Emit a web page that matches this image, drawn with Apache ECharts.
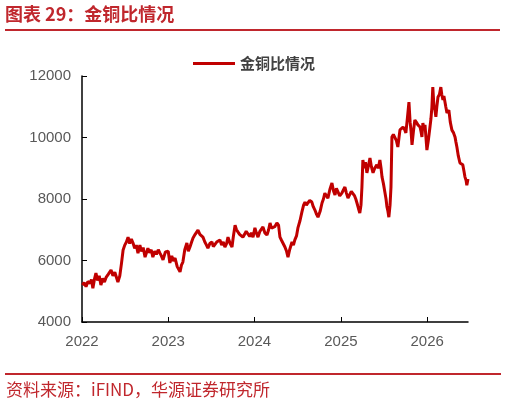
<!DOCTYPE html>
<html>
<head>
<meta charset="utf-8">
<script src="https://cdn.jsdelivr.net/npm/echarts@6/dist/echarts.min.js"></script>
<style>
  html, body { margin: 0; padding: 0; background: #fff; }
  #chart { width: 506px; height: 407px; }
</style>
</head>
<body>
<div id="chart"></div>
<script>
const seriesName = "金铜比情况";

const dates = [
  "2022-01-03", "2022-01-10", "2022-01-18", "2022-01-26", "2022-02-04", "2022-02-10", "2022-02-16", "2022-02-23", "2022-03-01", "2022-03-08",
  "2022-03-15", "2022-03-22", "2022-03-30", "2022-04-06", "2022-04-13", "2022-04-22", "2022-05-04", "2022-05-12", "2022-05-20", "2022-06-02",
  "2022-06-10", "2022-06-17", "2022-06-24", "2022-07-01", "2022-07-08", "2022-07-15", "2022-07-22", "2022-07-29", "2022-08-05", "2022-08-12",
  "2022-08-19", "2022-08-26", "2022-09-03", "2022-09-10", "2022-09-17", "2022-09-25", "2022-10-07", "2022-10-14", "2022-10-21", "2022-10-28",
  "2022-11-05", "2022-11-12", "2022-11-20", "2022-11-27", "2022-12-03", "2022-12-10", "2022-12-20",
  "2023-01-01", "2023-01-08", "2023-01-16", "2023-01-23", "2023-01-30", "2023-02-08", "2023-02-20", "2023-02-26", "2023-03-04", "2023-03-12",
  "2023-03-21", "2023-03-27", "2023-04-03", "2023-04-10", "2023-04-16", "2023-04-25", "2023-05-07", "2023-05-15", "2023-05-22", "2023-05-28",
  "2023-06-05", "2023-06-12", "2023-06-18", "2023-06-26", "2023-07-05", "2023-07-11", "2023-07-18", "2023-07-25", "2023-08-01", "2023-08-08",
  "2023-08-15", "2023-08-22", "2023-08-29", "2023-09-05", "2023-09-11", "2023-09-20", "2023-09-28", "2023-10-04", "2023-10-11", "2023-10-17",
  "2023-10-23", "2023-10-30", "2023-11-06", "2023-11-13", "2023-11-20", "2023-11-27", "2023-12-05", "2023-12-12", "2023-12-19", "2023-12-26",
  "2024-01-03", "2024-01-09", "2024-01-16", "2024-01-24", "2024-02-01", "2024-02-06", "2024-02-14", "2024-02-23", "2024-03-01", "2024-03-07",
  "2024-03-13", "2024-03-19", "2024-03-27", "2024-04-05", "2024-04-12", "2024-04-18", "2024-04-25", "2024-05-02", "2024-05-09", "2024-05-16",
  "2024-05-22", "2024-05-29", "2024-06-08", "2024-06-14", "2024-06-20", "2024-06-27", "2024-07-03", "2024-07-12", "2024-07-20", "2024-07-27",
  "2024-08-02", "2024-08-08", "2024-08-14", "2024-08-22", "2024-08-31", "2024-09-06", "2024-09-13", "2024-09-20", "2024-09-26", "2024-10-05",
  "2024-10-13", "2024-10-19", "2024-10-25", "2024-11-01", "2024-11-07", "2024-11-15", "2024-11-24", "2024-12-01", "2024-12-07", "2024-12-13",
  "2024-12-19", "2024-12-27",
  "2025-01-05", "2025-01-12", "2025-01-18", "2025-01-24", "2025-01-31", "2025-02-08", "2025-02-14", "2025-02-21", "2025-02-28", "2025-03-05",
  "2025-03-10", "2025-03-16", "2025-03-22", "2025-03-27", "2025-03-31", "2025-04-04", "2025-04-10", "2025-04-15", "2025-04-21", "2025-04-28",
  "2025-05-04", "2025-05-10", "2025-05-17", "2025-05-24", "2025-06-02", "2025-06-08", "2025-06-15", "2025-06-20", "2025-06-24", "2025-06-30",
  "2025-07-06", "2025-07-11", "2025-07-15", "2025-07-19", "2025-07-23", "2025-07-28", "2025-08-01", "2025-08-05", "2025-08-11", "2025-08-18",
  "2025-08-24", "2025-08-30", "2025-09-04", "2025-09-08", "2025-09-15", "2025-09-21", "2025-09-28", "2025-10-03", "2025-10-09", "2025-10-16",
  "2025-10-21", "2025-10-25", "2025-10-29", "2025-11-04", "2025-11-10", "2025-11-16", "2025-11-23", "2025-12-02", "2025-12-06", "2025-12-10",
  "2025-12-14", "2025-12-18", "2025-12-23", "2025-12-27", "2025-12-31",
  "2026-01-06", "2026-01-13", "2026-01-17", "2026-01-21", "2026-01-25", "2026-01-30", "2026-02-03", "2026-02-07", "2026-02-11", "2026-02-16",
  "2026-02-22", "2026-02-28", "2026-03-04", "2026-03-09", "2026-03-13", "2026-03-17", "2026-03-21", "2026-03-26", "2026-04-03", "2026-04-09",
  "2026-04-16", "2026-04-23", "2026-04-29", "2026-05-03", "2026-05-07", "2026-05-13", "2026-05-20", "2026-05-26", "2026-06-01", "2026-06-06",
  "2026-06-10", "2026-06-15", "2026-06-18", "2026-06-23"
];

const ratio = [
  5200, 5280, 5150, 5320, 5250, 5380, 5100, 5400, 5590, 5350,
  5500, 5200, 5420, 5300, 5450, 5550, 5690, 5500, 5620, 5300,
  5500, 5900, 6340, 6500, 6600, 6760, 6550, 6700, 6570, 6400,
  6500, 6240, 6500, 6300, 6420, 6110, 6400, 6250, 6350, 6110,
  6300, 6200, 6350, 6240, 6150, 6020, 6280,
  6300, 5920, 6150, 5980, 6080, 5800, 5630, 5850, 5950, 6350,
  6570, 6300, 6440, 6600, 6730, 6850, 6990, 6850, 6900, 6760,
  6600, 6500, 6400, 6550, 6600, 6450, 6500, 6600, 6550, 6670,
  6500, 6600, 6440, 6550, 6760, 6550, 6440, 6800, 7150, 7000,
  6930, 6850, 6900, 6760, 6850, 6950, 6890, 6780, 6900, 6760,
  7060, 6900, 6760, 6950, 7000, 7090, 6900, 6830, 7000, 7220,
  7050, 6990, 7100, 7220, 7150, 6760, 6650, 6600, 6440, 6300,
  6110, 6350, 6600, 6500, 6670, 6800, 7060, 7300, 7580, 7800,
  7900, 7800, 7870, 7950, 7900, 7750, 7640, 7500, 7410, 7600,
  7870, 8000, 8190, 8100, 8030, 8300, 8520, 8250, 8130, 8350,
  8290, 8100,
  8190, 8300, 8390, 8200, 8030, 8070, 8250, 8290, 8100, 8000,
  7870, 7700, 7540, 7800, 8390, 9270, 9000, 9200, 8850, 9100,
  9330, 9050, 8850, 9000, 9110, 9000, 9270, 9000, 8720, 8500,
  8230, 8000, 7740, 7600, 7410, 7800, 8390, 10020, 10100, 10150,
  9900, 9690, 10000, 10250, 10200, 10340, 10250, 10150, 10600, 11150,
  10500, 10200, 9760, 10200, 10570, 10500, 10410, 10340, 10200, 10020,
  10470, 10300, 10410, 10000, 9590,
  9900, 10340, 10600, 10960, 11640, 11000, 10900, 10670, 11000, 11320,
  11400, 11640, 11400, 11220, 11350, 11320, 11000, 10800, 10890, 10500,
  10240, 10150, 10020, 9850, 9690, 9400, 9170, 9200, 9110, 8900,
  8720, 8600, 8450, 8650
];

const red = "#c0272d";
const labelFont = "'Liberation Sans', Arial, 'Noto Sans CJK SC', sans-serif";
const cjkFont = "'Noto Sans CJK SC', 'Liberation Sans', sans-serif";
const DAY = 24 * 3600 * 1000;

const chart = echarts.init(document.getElementById("chart"));

const option = {
  animation: false,
  backgroundColor: "#fff",
  grid: { left: 82, right: 38, top: 76, bottom: 85, containLabel: false },
  legend: {
    data: [seriesName],
    left: 188,
    top: 51,
    icon: "rect",
    itemWidth: 42,
    itemHeight: 3,
    itemGap: 6,
    textStyle: { fontFamily: cjkFont, fontSize: 15, fontWeight: "bold", color: "#404040" }
  },
  xAxis: {
    type: "time",
    min: "2022-01-01",
    max: "2026-06-23",
    minInterval: 365 * DAY,
    maxInterval: 366 * DAY,
    axisLine: { lineStyle: { color: "#000", width: 1.5 } },
    axisTick: { show: true, inside: true, length: 5, lineStyle: { color: "#000", width: 1 } },
    axisLabel: {
      formatter: "{yyyy}",
      hideOverlap: false,
      fontFamily: labelFont, fontSize: 15, color: "#595959", margin: 12
    },
    splitLine: { show: false }
  },
  yAxis: {
    type: "value",
    min: 4000,
    max: 12000,
    interval: 2000,
    axisLine: { show: true, lineStyle: { color: "#000", width: 1.5 } },
    axisTick: { show: true, inside: true, length: 5, lineStyle: { color: "#000", width: 1 } },
    axisLabel: {
      formatter: v => String(v),
      fontFamily: labelFont, fontSize: 15, color: "#595959", margin: 11
    },
    splitLine: { show: false }
  },
  series: [{
    name: seriesName,
    type: "line",
    data: dates.map((d, i) => [d, ratio[i]]),
    showSymbol: false,
    symbol: "none",
    lineStyle: { color: "#c00000", width: 3 },
    itemStyle: { color: "#c00000" }
  }],
  graphic: [
    {
      type: "text", left: 5, top: 5,
      style: { text: "图表 29：金铜比情况", fill: red, font: "bold 18px " + cjkFont }
    },
    {
      type: "line", shape: { x1: 5, y1: 30, x2: 500, y2: 30 },
      style: { stroke: red, lineWidth: 2 }
    },
    {
      type: "line", shape: { x1: 5, y1: 374, x2: 501, y2: 374 },
      style: { stroke: red, lineWidth: 2 }
    },
    {
      type: "text", left: 6, top: 381,
      style: { text: "资料来源：iFIND，华源证券研究所", fill: red, font: "17px " + cjkFont }
    }
  ]
};

chart.setOption(option);
</script>
</body>
</html>
